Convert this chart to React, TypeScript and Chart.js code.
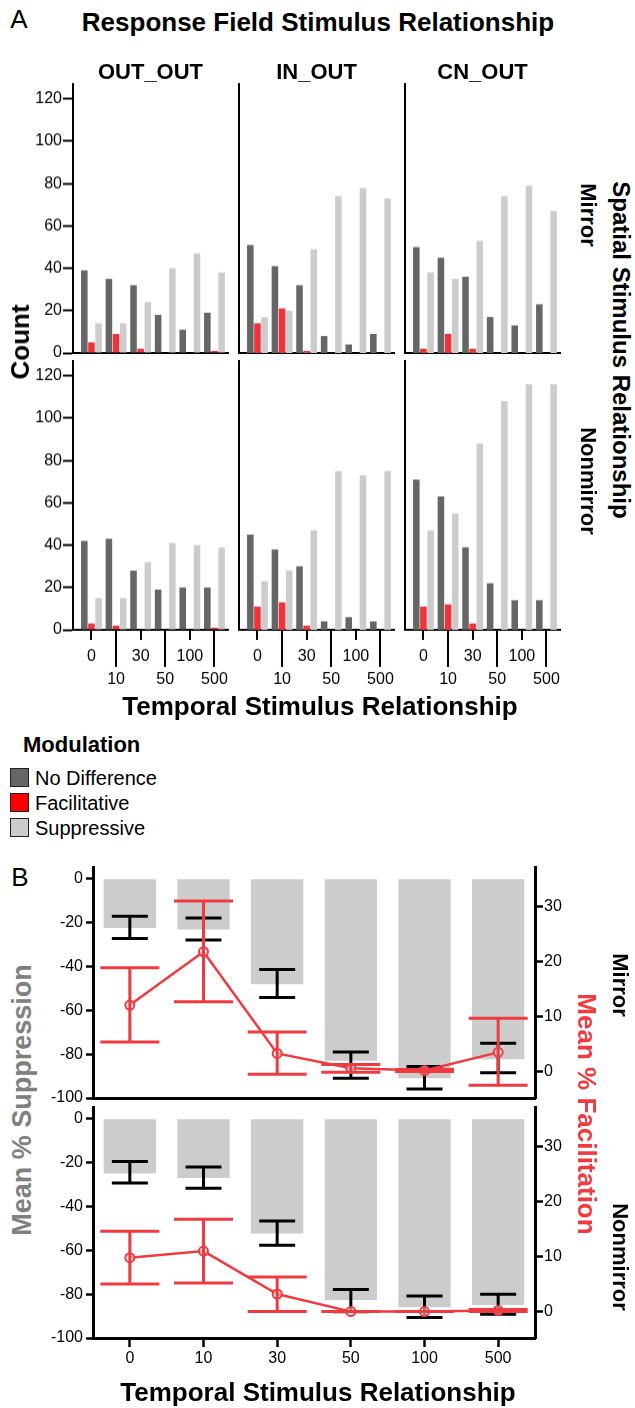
import React, { useEffect, useRef } from 'react';
import { Chart, registerables } from 'chart.js';

Chart.register(...registerables);

const FONT = "'Liberation Sans', Arial, Helvetica, sans-serif";
Chart.defaults.font.family = FONT;

// ---------- categories ----------
const TEMPORAL = ['0', '10', '30', '50', '100', '500'];
const COLUMNS = ['OUT_OUT', 'IN_OUT', 'CN_OUT'];
const ROWS = ['Mirror', 'Nonmirror'];
const MODULATION = ['No Difference', 'Facilitative', 'Suppressive'];

// ---------- panel A: counts ----------
const COUNT_MAX = 127;
const OUT_OUT_MIRROR_NODIFF = [39, 35, 32, 18, 11, 19];
const OUT_OUT_MIRROR_FACIL = [5, 9, 2, 0, 0, 1];
const OUT_OUT_MIRROR_SUPP = [14, 14, 24, 40, 47, 38];
const IN_OUT_MIRROR_NODIFF = [51, 41, 32, 8, 4, 9];
const IN_OUT_MIRROR_FACIL = [14, 21, 1, 0, 0, 0];
const IN_OUT_MIRROR_SUPP = [17, 20, 49, 74, 78, 73];
const CN_OUT_MIRROR_NODIFF = [50, 45, 36, 17, 13, 23];
const CN_OUT_MIRROR_FACIL = [2, 9, 2, 0, 0, 0];
const CN_OUT_MIRROR_SUPP = [38, 35, 53, 74, 79, 67];
const OUT_OUT_NONMIRROR_NODIFF = [42, 43, 28, 19, 20, 20];
const OUT_OUT_NONMIRROR_FACIL = [3, 2, 0, 0, 0, 1];
const OUT_OUT_NONMIRROR_SUPP = [15, 15, 32, 41, 40, 39];
const IN_OUT_NONMIRROR_NODIFF = [45, 38, 30, 4, 6, 4];
const IN_OUT_NONMIRROR_FACIL = [11, 13, 2, 0, 0, 0];
const IN_OUT_NONMIRROR_SUPP = [23, 28, 47, 75, 73, 75];
const CN_OUT_NONMIRROR_NODIFF = [71, 63, 39, 22, 14, 14];
const CN_OUT_NONMIRROR_FACIL = [11, 12, 3, 0, 0, 0];
const CN_OUT_NONMIRROR_SUPP = [47, 55, 88, 108, 116, 116];

// ---------- panel B: means and error bars ----------
const MIRROR_SUPP = [-22.5, -23.2, -48.2, -83, -91, -82.3];
const MIRROR_SUPP_HI = [-17.1, -17.9, -41.4, -79, -85.6, -75];
const MIRROR_SUPP_LO = [-27.3, -28, -54.2, -91, -95.9, -88.5];
const MIRROR_FAC = [12.1, 21.8, 3.3, 0.6, 0.2, 3.5];
const MIRROR_FAC_HI = [18.9, 31, 7.2, 1.3, 0.4, 9.7];
const MIRROR_FAC_LO = [5.4, 12.7, -0.5, -0.1, 0, -2.5];
const NONMIRROR_SUPP = [-25, -27.1, -52.4, -82.7, -86, -85];
const NONMIRROR_SUPP_HI = [-19.5, -22.1, -46.7, -77.9, -80.9, -80];
const NONMIRROR_SUPP_LO = [-29.4, -31.7, -57.7, -88, -90.6, -89.2];
const NONMIRROR_FAC = [9.8, 11, 3.2, 0, 0, 0.2];
const NONMIRROR_FAC_HI = [14.6, 16.8, 6.3, 0, 0, 0.4];
const NONMIRROR_FAC_LO = [5.0, 5.2, 0, 0, 0, 0];

const SUPP_MIN = -100;
const SUPP_MAX = 5.3;
const FAC_MIN = -4.8;
const FAC_MAX = 37.2;

// ---------- colours ----------
const C_DARK = '#666666';
const C_RED = '#f0333a';
const C_LIGHT = '#cccccc';
const C_LINE = '#ef3a40';

type Area = { left: number; top: number; right: number; bottom: number };
type Margins = { yl: number; yr: number; xh: number; pl: number; pr: number; pt: number; pb: number };

function ChartBox({ area, m, make }: { area: Area; m: Margins; make: () => any }) {
  const ref = useRef<HTMLCanvasElement>(null);
  const left = area.left - m.yl - m.pl;
  const top = area.top - m.pt;
  const width = area.right - area.left + m.yl + m.yr + m.pl + m.pr;
  const height = area.bottom - area.top + m.pt + m.xh + m.pb;
  useEffect(() => {
    const chart = new Chart(ref.current as HTMLCanvasElement, make());
    return () => chart.destroy();
  }, []);
  return (
    <canvas
      ref={ref}
      width={width}
      height={height}
      style={{ position: 'absolute', left, top, width, height }}
    />
  );
}

const altTicks = {
  id: 'altTicks',
  afterDraw(chart: any) {
    const { ctx, chartArea, scales } = chart;
    const x = scales.x;
    ctx.save();
    ctx.strokeStyle = '#000';
    ctx.lineWidth = 2;
    TEMPORAL.forEach((_, i) => {
      const px = Math.round(x.getPixelForValue(i));
      ctx.beginPath();
      ctx.moveTo(px, chartArea.bottom);
      ctx.lineTo(px, chartArea.bottom + (i % 2 ? 37 : 10));
      ctx.stroke();
    });
    ctx.restore();
  },
};

function countConfig(dark: number[], red: number[], light: number[], showY: boolean, showX: boolean, m: Margins) {
  const toXY = (arr: number[]) => arr.map((v, i) => ({ x: i, y: v }));
  return {
    type: 'bar',
    data: {
      datasets: [
        { label: MODULATION[0], data: toXY(dark), backgroundColor: C_DARK },
        { label: MODULATION[1], data: toXY(red), backgroundColor: C_RED },
        { label: MODULATION[2], data: toXY(light), backgroundColor: C_LIGHT },
      ],
    },
    options: {
      animation: false,
      responsive: false,
      events: [],
      layout: { padding: { left: m.pl, right: m.pr, top: m.pt, bottom: m.pb } },
      plugins: { legend: { display: false }, tooltip: { enabled: false } },
      datasets: { bar: { barPercentage: 0.92, categoryPercentage: 0.87 } },
      scales: {
        x: {
          type: 'linear',
          min: -0.75,
          max: 5.55,
          offset: false,
          afterBuildTicks: (s: any) => {
            s.ticks = TEMPORAL.map((_, i) => ({ value: i }));
          },
          afterFit: (s: any) => {
            s.height = m.xh;
          },
          ticks: {
            display: showX,
            autoSkip: false,
            maxRotation: 0,
            padding: 2,
            color: '#000',
            font: { size: 16, lineHeight: 23 / 16 },
            callback: (_v: any, i: number) => (i % 2 === 0 ? [TEMPORAL[i]] : ['', TEMPORAL[i]]),
          },
          grid: {
            display: showX,
            offset: false,
            drawOnChartArea: false,
            drawTicks: showX,
            tickLength: 13.5,
            tickColor: 'rgba(0,0,0,0)',
          },
          border: { display: true, color: '#000', width: 2 },
        },
        y: {
          min: 0,
          max: COUNT_MAX,
          afterFit: (s: any) => {
            s.width = m.yl;
          },
          ticks: {
            display: showY,
            stepSize: 20,
            includeBounds: false,
            padding: 1,
            color: '#000',
            font: { size: 16 },
          },
          grid: {
            display: showY,
            drawOnChartArea: false,
            drawTicks: showY,
            tickLength: 10,
            tickWidth: 2,
            tickColor: '#000',
          },
          border: { display: true, color: '#000', width: 2 },
        },
      },
    },
    plugins: showX ? [altTicks] : [],
  };
}

function errPlugin(sLo: number[], sHi: number[], fLo: number[], fHi: number[]) {
  const draw = (chart: any, axis: string, lo: number[], hi: number[], cap: number, color: string) => {
    const { ctx, scales } = chart;
    const x = scales.x;
    const y = scales[axis];
    ctx.save();
    ctx.strokeStyle = color;
    ctx.lineWidth = 3;
    lo.forEach((l, i) => {
      const px = x.getPixelForValue(i);
      const y1 = y.getPixelForValue(hi[i]);
      const y2 = y.getPixelForValue(l);
      ctx.beginPath();
      ctx.moveTo(px, y1);
      ctx.lineTo(px, y2);
      ctx.moveTo(px - cap / 2, y1);
      ctx.lineTo(px + cap / 2, y1);
      ctx.moveTo(px - cap / 2, y2);
      ctx.lineTo(px + cap / 2, y2);
      ctx.stroke();
    });
    ctx.restore();
  };
  return {
    id: 'errbars',
    beforeDatasetDraw(chart: any, args: any) {
      if (args.index === 1) draw(chart, 'y', sLo, sHi, 36, '#000');
    },
    afterDatasetsDraw(chart: any) {
      draw(chart, 'y2', fLo, fHi, 59, C_LINE);
    },
  };
}

function meanConfig(
  supp: number[], sLo: number[], sHi: number[],
  fac: number[], fLo: number[], fHi: number[],
  showX: boolean, m: Margins
) {
  const tickFont = { size: 16 };
  return {
    type: 'bar',
    data: {
      labels: TEMPORAL,
      datasets: [
        {
          type: 'bar',
          label: 'Mean % Suppression',
          data: supp,
          backgroundColor: C_LIGHT,
          yAxisID: 'y',
          order: 2,
          barPercentage: 0.71,
          categoryPercentage: 1,
        },
        {
          type: 'line',
          label: 'Mean % Facilitation',
          data: fac,
          yAxisID: 'y2',
          order: 1,
          borderColor: C_LINE,
          borderWidth: 2.5,
          tension: 0,
          pointRadius: 4.5,
          pointBorderWidth: 2,
          pointBorderColor: C_LINE,
          pointBackgroundColor: 'rgba(255,255,255,0.55)',
        },
      ],
    },
    options: {
      animation: false,
      responsive: false,
      events: [],
      layout: { padding: { left: m.pl, right: m.pr, top: m.pt, bottom: m.pb } },
      plugins: { legend: { display: false }, tooltip: { enabled: false } },
      scales: {
        x: {
          offset: true,
          afterFit: (s: any) => {
            s.height = m.xh;
          },
          ticks: { display: showX, padding: 2, color: '#000', font: tickFont, maxRotation: 0 },
          grid: {
            display: showX,
            offset: false,
            drawOnChartArea: false,
            drawTicks: showX,
            tickLength: 9,
            tickWidth: 2.5,
            tickColor: '#000',
          },
          border: { display: true, color: '#000', width: 3 },
        },
        y: {
          position: 'left',
          min: SUPP_MIN,
          max: SUPP_MAX,
          afterFit: (s: any) => {
            s.width = m.yl;
          },
          ticks: { stepSize: 20, includeBounds: false, padding: 3, color: '#000', font: tickFont },
          grid: { drawOnChartArea: false, tickLength: 7, tickWidth: 2.5, tickColor: '#000' },
          border: { display: true, color: '#000', width: 3 },
        },
        y2: {
          position: 'right',
          min: FAC_MIN,
          max: FAC_MAX,
          afterFit: (s: any) => {
            s.width = m.yr;
          },
          ticks: { stepSize: 10, includeBounds: false, padding: 1, color: '#000', font: tickFont },
          grid: { drawOnChartArea: false, tickLength: 8, tickWidth: 2.5, tickColor: '#000' },
          border: { display: true, color: '#000', width: 3 },
        },
      },
    },
    plugins: [errPlugin(sLo, sHi, fLo, fHi)],
  };
}

function Label({ text, x, y, size, bold = true, rotate = 0, color = '#000', align = 'center' }: any) {
  const tx = align === 'left' ? '0' : '-50%';
  return (
    <div
      style={{
        position: 'absolute',
        left: x,
        top: y,
        transform: `translate(${tx}, -50%) rotate(${rotate}deg)`,
        fontFamily: FONT,
        fontSize: size,
        fontWeight: bold ? 'bold' : 'normal',
        color,
        whiteSpace: 'nowrap',
        lineHeight: 1,
        pointerEvents: 'none',
      }}
    >
      {text}
    </div>
  );
}

const COL_LEFTS = [73, 239, 405];
const PANEL_W = 155;
const PX_PER_COUNT = 2.117;
const ROW_BOTTOMS = [353, 630];

export default function App() {
  const panelData = [
    [
      [OUT_OUT_MIRROR_NODIFF, OUT_OUT_MIRROR_FACIL, OUT_OUT_MIRROR_SUPP],
      [IN_OUT_MIRROR_NODIFF, IN_OUT_MIRROR_FACIL, IN_OUT_MIRROR_SUPP],
      [CN_OUT_MIRROR_NODIFF, CN_OUT_MIRROR_FACIL, CN_OUT_MIRROR_SUPP],
    ],
    [
      [OUT_OUT_NONMIRROR_NODIFF, OUT_OUT_NONMIRROR_FACIL, OUT_OUT_NONMIRROR_SUPP],
      [IN_OUT_NONMIRROR_NODIFF, IN_OUT_NONMIRROR_FACIL, IN_OUT_NONMIRROR_SUPP],
      [CN_OUT_NONMIRROR_NODIFF, CN_OUT_NONMIRROR_FACIL, CN_OUT_NONMIRROR_SUPP],
    ],
  ];

  const aCharts: any[] = [];
  panelData.forEach((row, r) => {
    row.forEach((d, c) => {
      const bottom = ROW_BOTTOMS[r];
      const area = {
        left: COL_LEFTS[c],
        right: COL_LEFTS[c] + PANEL_W,
        bottom,
        top: bottom - COUNT_MAX * PX_PER_COUNT,
      };
      const m: Margins = {
        yl: c === 0 ? 43 : 4,
        yr: 0,
        xh: r === 1 ? 72 : 16,
        pl: 0,
        pr: 6,
        pt: 15,
        pb: 0,
      };
      const showY = c === 0;
      const showX = r === 1;
      aCharts.push(
        <ChartBox
          key={`a-${r}-${c}`}
          area={area}
          m={m}
          make={() => countConfig(d[0], d[1], d[2], showY, showX, m)}
        />
      );
    });
  });

  const bTop: Area = { left: 93, right: 535, top: 867, bottom: 1098 };
  const bBot: Area = { left: 93, right: 535, top: 1107, bottom: 1338 };
  const mTop: Margins = { yl: 53, yr: 42, xh: 14, pl: 0, pr: 4, pt: 15, pb: 0 };
  const mBot: Margins = { yl: 53, yr: 42, xh: 40, pl: 0, pr: 4, pt: 15, pb: 0 };

  const legendColors = [C_DARK, '#ff0000', C_LIGHT];

  return (
    <div
      style={{
        position: 'absolute',
        left: 0,
        top: 0,
        width: 635,
        height: 1408,
        background: '#fff',
        overflow: 'hidden',
        fontFamily: FONT,
      }}
    >
      {aCharts}
      <ChartBox
        area={bTop}
        m={mTop}
        make={() =>
          meanConfig(MIRROR_SUPP, MIRROR_SUPP_LO, MIRROR_SUPP_HI, MIRROR_FAC, MIRROR_FAC_LO, MIRROR_FAC_HI, false, mTop)
        }
      />
      <ChartBox
        area={bBot}
        m={mBot}
        make={() =>
          meanConfig(
            NONMIRROR_SUPP, NONMIRROR_SUPP_LO, NONMIRROR_SUPP_HI,
            NONMIRROR_FAC, NONMIRROR_FAC_LO, NONMIRROR_FAC_HI,
            true, mBot
          )
        }
      />

      {/* Panel A text */}
      <Label text="A" x={19} y={19} size={26} bold={false} />
      <Label text="Response Field Stimulus Relationship" x={318} y={22} size={26} />
      {COLUMNS.map((t, c) => (
        <Label key={t} text={t} x={COL_LEFTS[c] + PANEL_W / 2} y={72} size={22} />
      ))}
      <Label text="Count" x={20} y={342} size={26} rotate={-90} />
      <Label text={ROWS[0]} x={588} y={215} size={22} rotate={90} />
      <Label text={ROWS[1]} x={588} y={481} size={22} rotate={90} />
      <Label text="Spatial Stimulus Relationship" x={621} y={350} size={24} rotate={90} />
      <Label text="Temporal Stimulus Relationship" x={320} y={706} size={26} />

      {/* Legend */}
      <Label text="Modulation" x={23} y={745} size={22} align="left" />
      {MODULATION.map((t, i) => (
        <React.Fragment key={t}>
          <div
            style={{
              position: 'absolute',
              left: 10,
              top: 768 + i * 25,
              width: 17,
              height: 17,
              background: legendColors[i],
              border: '1.5px solid #222',
            }}
          />
          <Label text={t} x={35} y={778 + i * 25} size={20} bold={false} align="left" />
        </React.Fragment>
      ))}

      {/* Panel B text */}
      <Label text="B" x={20} y={877} size={26} bold={false} />
      <Label text="Mean % Suppression" x={22} y={1100} size={27} rotate={-90} color="#808080" />
      <Label text="Mean % Facilitation" x={587} y={1114} size={26} rotate={90} color={C_LINE} />
      <Label text={ROWS[0]} x={620} y={985} size={22} rotate={90} />
      <Label text={ROWS[1]} x={620} y={1257} size={22} rotate={90} />
      <Label text="Temporal Stimulus Relationship" x={318} y={1392} size={26} />
    </div>
  );
}
